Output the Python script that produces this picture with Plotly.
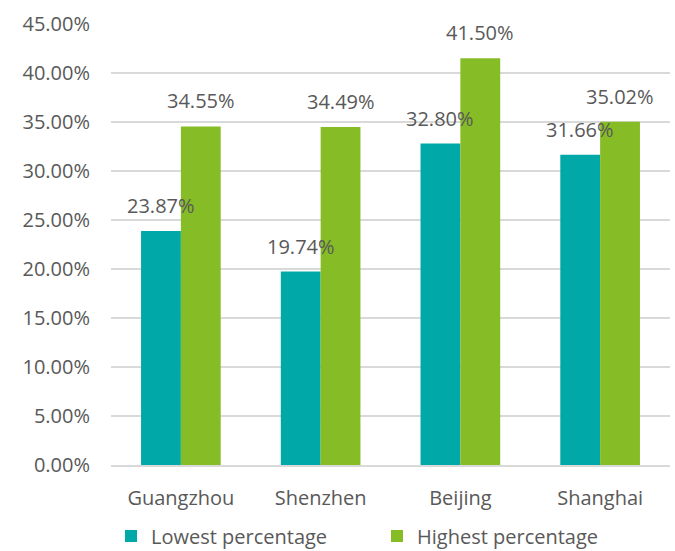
import plotly.graph_objects as go

# City values (percent)
cities = ["Guangzhou", "Shenzhen", "Beijing", "Shanghai"]
lowest = [23.87, 19.74, 32.80, 31.66]
highest = [34.55, 34.49, 41.50, 35.02]
series_names = ["Lowest percentage", "Highest percentage"]
y_ticks = [0, 5, 10, 15, 20, 25, 30, 35, 40, 45]

TEAL = "#00A8A8"
GREEN = "#86BC25"
TEXT = "#595959"
GRID = "#D9D9D9"
FONT = "Open Sans"
FS = 20

fig = go.Figure()
fig.add_bar(x=cities, y=lowest, name=series_names[0], marker_color=TEAL,
            marker_line_width=0)
fig.add_bar(x=cities, y=highest, name=series_names[1], marker_color=GREEN,
            marker_line_width=0)

# value labels above each bar
for vals, shift in ((lowest, -20), (highest, 20)):
    for c, v in zip(cities, vals):
        fig.add_annotation(x=c, y=v, text=f"{v:.2f}%", showarrow=False,
                           xshift=shift, yshift=10, yanchor="bottom",
                           font=dict(family=FONT, size=FS, color=TEXT))

fig.update_layout(
    width=675, height=551,
    margin=dict(l=111, r=5, t=24, b=86, autoexpand=False),
    paper_bgcolor="white", plot_bgcolor="white",
    barmode="group", bargap=0.43, bargroupgap=0,
    font=dict(family=FONT, size=FS, color=TEXT),
    showlegend=True,
    legend=dict(orientation="h", x=0.0, xanchor="left",
                y=0.027, yref="container", yanchor="middle",
                entrywidth=221, entrywidthmode="pixels",
                font=dict(family=FONT, size=FS, color=TEXT),
                itemwidth=30, tracegroupgap=0),
)
fig.update_yaxes(range=[0, 45], tickvals=y_ticks,
                 ticktext=[f"{t:.2f}%" for t in y_ticks],
                 showgrid=True, gridcolor=GRID, gridwidth=1.5,
                 zeroline=False, showline=False, ticks="",
                 ticklabelstandoff=20)
fig.update_xaxes(showline=True, linecolor=GRID, linewidth=1.5,
                 showgrid=False, ticks="", ticklabelstandoff=14)

fig.write_html("out.html")
